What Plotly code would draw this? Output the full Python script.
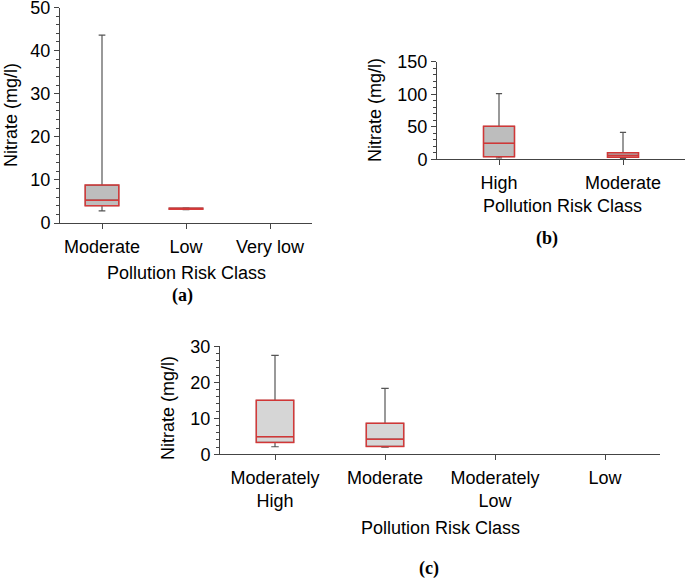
import plotly.graph_objects as go

W, H = 685, 579

# ---------------- data ----------------
a_classes = ["Moderate", "Low", "Very low"]
a_x = ["Moderate", "Low"]
a_lower = [2.8, 3.1]
a_q1 = [4.0, 3.2]
a_median = [5.3, 3.35]
a_q3 = [8.8, 3.45]
a_upper = [43.6, 3.5]

b_classes = ["High", "Moderate"]
b_x = ["High", "Moderate"]
b_lower = [2.0, 1.0]
b_q1 = [4.0, 3.0]
b_median = [24.6, 6.0]
b_q3 = [50.8, 10.2]
b_upper = [101.0, 41.5]

c_classes = ["Moderately<br>High", "Moderate", "Moderately<br>Low", "Low"]
c_x = ["Moderately<br>High", "Moderate"]
c_lower = [2.1, 2.0]
c_q1 = [3.3, 2.2]
c_median = [4.9, 4.2]
c_q3 = [15.0, 8.6]
c_upper = [27.5, 18.3]

y_title = "Nitrate (mg/l)"
x_title = "Pollution Risk Class"
panel_labels = ["(a)", "(b)", "(c)"]

# ---------------- style ----------------
RED = "rgba(232,50,50,0.85)"
WHISK = "#555555"
AXC = "#444444"
FONT = "Liberation Sans, Arial, sans-serif"
SERIF = "Liberation Serif, Times New Roman, serif"

fig = go.Figure()


def add_panel(xs, lo, q1, med, q3, hi, fill, width, xr, yr):
    fig.add_trace(go.Box(x=xs, q1=q1, median=med, q3=q3, lowerfence=lo, upperfence=hi,
                         fillcolor=fill, line=dict(color=WHISK, width=1.2), whiskerwidth=0.2,
                         width=width, xaxis=xr, yaxis=yr, boxpoints=False,
                         showlegend=False, hoverinfo="skip"))
    fig.add_trace(go.Box(x=xs, q1=q1, median=med, q3=q3, lowerfence=q1, upperfence=q3,
                         fillcolor="rgba(0,0,0,0)", line=dict(color=RED, width=1.5),
                         whiskerwidth=0, width=width, xaxis=xr, yaxis=yr, boxpoints=False,
                         showlegend=False, hoverinfo="skip"))


add_panel(a_x, a_lower, a_q1, a_median, a_q3, a_upper, "#bdbdbd", 0.4, "x", "y")
add_panel(b_x, b_lower, b_q1, b_median, b_q3, b_upper, "#bdbdbd", 0.25, "x2", "y2")
add_panel(c_x, c_lower, c_q1, c_median, c_q3, c_upper, "#d6d6d6", 0.34, "x3", "y3")


def xax(dom, anchor, cats):
    return dict(domain=[dom[0] / W, dom[1] / W], anchor=anchor, type="category",
                categoryorder="array", categoryarray=cats, range=[-0.5, len(cats) - 0.5],
                showline=True, linecolor=AXC, linewidth=1, ticks="outside", ticklen=5,
                tickcolor=AXC, tickfont=dict(size=18, color="black", family=FONT),
                showgrid=False, zeroline=False, ticklabelstandoff=2, automargin=False,
                ticklabeloverflow="allow")


def yax(dom, anchor, rng, dt, mdt):
    return dict(domain=[1 - dom[1] / H, 1 - dom[0] / H], anchor=anchor, range=rng,
                dtick=dt, showline=True, linecolor=AXC, linewidth=1, ticks="outside",
                ticklen=5, tickcolor=AXC, tickfont=dict(size=18, color="black", family=FONT),
                minor=dict(dtick=mdt, ticks="outside", ticklen=3, tickcolor=AXC, showgrid=False),
                showgrid=False, zeroline=False, automargin=False, ticklabeloverflow="allow")


fig.update_layout(
    width=W, height=H, margin=dict(l=0, r=0, t=0, b=0, autoexpand=False),
    paper_bgcolor="white", plot_bgcolor="white", boxmode="overlay",
    font=dict(family=FONT, size=18, color="black"),
    xaxis=xax((60, 312), "y", a_classes),
    yaxis=yax((7.5, 223), "x", [0, 50], 10, 2),
    xaxis2=xax((437, 685), "y2", b_classes),
    yaxis2=yax((61.8, 159.3), "x2", [0, 150], 50, 10),
    xaxis3=xax((220, 660), "y3", c_classes),
    yaxis3=yax((346.3, 454.3), "x3", [0, 30], 10, 2),
)


def ann(text, x, y, angle=0, family=FONT, bold=False):
    t = f"<b>{text}</b>" if bold else text
    fig.add_annotation(text=t, x=x / W, y=1 - y / H, xref="paper", yref="paper",
                       xanchor="center", yanchor="middle", showarrow=False,
                       textangle=angle, font=dict(size=18, family=family, color="black"))


ann(y_title, 11, 115, -90)
ann(x_title, 186, 273)
ann(panel_labels[0], 182, 295, family=SERIF, bold=True)

ann(y_title, 375, 110, -90)
ann(x_title, 562, 206)
ann(panel_labels[1], 547, 238, family=SERIF, bold=True)

ann(y_title, 168, 408, -90)
ann(x_title, 440, 528)
ann(panel_labels[2], 429, 568, family=SERIF, bold=True)

fig.write_html("out.html", config={"displayModeBar": False},
               post_script="document.body.style.margin='0px';document.body.style.overflow='hidden';")
